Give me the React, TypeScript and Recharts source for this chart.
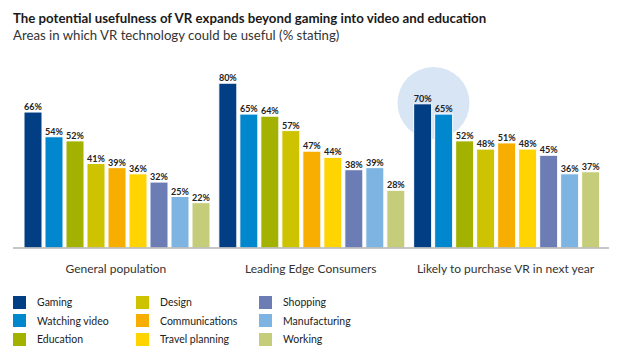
import React from "react";
import { BarChart, Bar, XAxis, YAxis, LabelList } from "recharts";

const categories = ["General population", "Leading Edge Consumers", "Likely to purchase VR in next year"];
const seriesNames = ["Gaming", "Watching video", "Education", "Design", "Communications", "Travel planning", "Shopping", "Manufacturing", "Working"];
const gaming = [66, 80, 70];
const watchingVideo = [54, 65, 65];
const education = [52, 64, 52];
const design = [41, 57, 48];
const communications = [39, 47, 51];
const travelPlanning = [36, 44, 48];
const shopping = [32, 38, 45];
const manufacturing = [25, 39, 36];
const working = [22, 28, 37];

const seriesValues = [gaming, watchingVideo, education, design, communications, travelPlanning, shopping, manufacturing, working];
const colors = ["#023e84", "#0087cd", "#a3b100", "#cdc300", "#f8ae00", "#ffd400", "#6c7db5", "#7db4e1", "#c5cc7a"];

const data = categories.map((c, i) => {
  const row: Record<string, any> = { name: c };
  seriesNames.forEach((s, j) => {
    row[s] = seriesValues[j][i];
  });
  return row;
});

const FONT = "Lato, 'Open Sans', sans-serif";

export default function App() {
  return (
    <div style={{ position: "absolute", left: 0, top: 0, width: 620, height: 354, background: "#fff", fontFamily: FONT, overflow: "hidden" }}>
      <svg width={620} height={354} style={{ position: "absolute", left: 0, top: 0 }}>
        <circle cx={433.5} cy={103} r={36} fill="#d8e5f5" />
      </svg>
      <div style={{ position: "absolute", left: 13, top: 10, fontSize: 13.25, fontWeight: 700, color: "#1a1a1a", whiteSpace: "nowrap" }}>
        The potential usefulness of VR expands beyond gaming into video and education
      </div>
      <div style={{ position: "absolute", left: 13, top: 27, fontSize: 13.2, color: "#333", whiteSpace: "nowrap" }}>
        Areas in which VR technology could be useful (% stating)
      </div>
      <div style={{ position: "absolute", left: 0, top: 0 }}>
        <BarChart
          width={620}
          height={290}
          data={data}
          margin={{ top: 42, right: 11, left: 13, bottom: 12 }}
          barCategoryGap={5.5}
          barGap={3}
        >
          <XAxis
            dataKey="name"
            padding={{ left: 5.5, right: 6 }}
            tickLine={false}
            tickSize={0}
            tickMargin={16}
            height={30}
            axisLine={{ stroke: "#b5b5b5", strokeWidth: 1.5 }}
            tick={{ fontSize: 12, fill: "#333", fontFamily: FONT }}
          />
          <YAxis hide domain={[0, 100]} />
          {seriesNames.map((s, j) => (
            <Bar key={s} dataKey={s} fill={colors[j]} stroke="#fff" strokeWidth={1} isAnimationActive={false}>
              <LabelList
                dataKey={s}
                position="top"
                offset={2}
                formatter={(v: any) => `${v}%`}
                style={{ fontSize: 9, fontWeight: 700, fill: "#222", fontFamily: FONT }}
              />
            </Bar>
          ))}
        </BarChart>
      </div>
      {seriesNames.map((s, j) => {
        const col = Math.floor(j / 3);
        const row = j % 3;
        return (
          <div key={s} style={{ position: "absolute", left: 13 + col * 123, top: 295 + row * 18.5, height: 14, display: "flex", alignItems: "center" }}>
            <div style={{ width: 13, height: 13, background: colors[j] }} />
            <div style={{ marginLeft: 11, fontSize: 10.5, color: "#222", whiteSpace: "nowrap" }}>{s}</div>
          </div>
        );
      })}
    </div>
  );
}
